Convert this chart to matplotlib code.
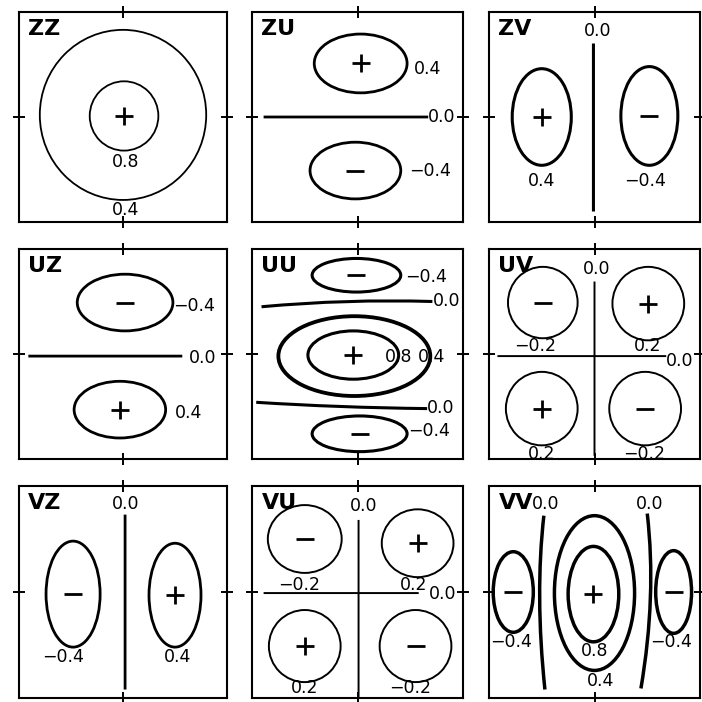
import matplotlib
matplotlib.use("Agg")
import matplotlib.pyplot as plt
from matplotlib.patches import Ellipse, PathPatch
from matplotlib.path import Path

panels = ["ZZ", "ZU", "ZV", "UZ", "UU", "UV", "VZ", "VU", "VV"]

# closed contours: panel, level, centre x, centre y, half width, half height
loops = [
    ("ZZ", 0.4, 0.00, 0.02, 0.80, 0.81),
    ("ZZ", 0.8, 0.01, 0.01, 0.33, 0.33),
    ("ZU", 0.4, 0.03, 0.51, 0.44, 0.28),
    ("ZU", -0.4, -0.02, -0.51, 0.43, 0.27),
    ("ZV", 0.4, -0.50, 0.00, 0.28, 0.46),
    ("ZV", -0.4, 0.52, 0.01, 0.27, 0.47),
    ("UZ", -0.4, 0.02, 0.49, 0.46, 0.27),
    ("UZ", 0.4, -0.03, -0.53, 0.44, 0.27),
    ("UU", -0.4, -0.01, 0.75, 0.42, 0.16),
    ("UU", 0.4, -0.03, -0.02, 0.72, 0.38),
    ("UU", 0.8, -0.04, -0.01, 0.43, 0.23),
    ("UU", -0.4, 0.02, -0.76, 0.45, 0.17),
    ("UV", -0.2, -0.49, 0.49, 0.33, 0.34),
    ("UV", 0.2, 0.51, 0.48, 0.34, 0.35),
    ("UV", 0.2, -0.50, -0.52, 0.34, 0.35),
    ("UV", -0.2, 0.48, -0.52, 0.34, 0.35),
    ("VZ", -0.4, -0.48, -0.02, 0.26, 0.50),
    ("VZ", 0.4, 0.50, -0.03, 0.25, 0.49),
    ("VU", -0.2, -0.50, 0.50, 0.35, 0.32),
    ("VU", 0.2, 0.57, 0.46, 0.34, 0.32),
    ("VU", 0.2, -0.50, -0.51, 0.34, 0.34),
    ("VU", -0.2, 0.55, -0.51, 0.34, 0.34),
    ("VV", -0.4, -0.77, 0.00, 0.19, 0.38),
    ("VV", 0.4, 0.00, -0.01, 0.38, 0.73),
    ("VV", 0.8, -0.01, -0.02, 0.24, 0.45),
    ("VV", -0.4, 0.75, 0.00, 0.17, 0.39),
]

# zero lines: panel, (x start, mid, end), (y start, mid, end)
zero_lines = [
    ("ZU", (-0.89, -0.11, 0.67), (0.00, 0.00, 0.00)),
    ("ZV", (-0.01, -0.01, -0.01), (0.70, -0.10, -0.90)),
    ("UZ", (-0.91, -0.17, 0.57), (-0.02, -0.02, -0.02)),
    ("UU", (-0.91, -0.10, 0.71), (0.45, 0.50, 0.50)),
    ("UU", (-0.96, -0.17, 0.66), (-0.46, -0.50, -0.52)),
    ("UV", (-0.92, -0.12, 0.68), (-0.02, -0.02, -0.02)),
    ("UV", (0.00, 0.00, 0.00), (0.69, -0.14, -0.97)),
    ("VZ", (0.02, 0.02, 0.02), (0.73, -0.10, -0.92)),
    ("VU", (-0.89, -0.16, 0.58), (-0.01, -0.01, -0.01)),
    ("VU", (0.01, 0.01, 0.01), (0.68, -0.16, -1.00)),
    ("VV", (-0.48, -0.52, -0.47), (0.72, -0.06, -0.92)),
    ("VV", (0.50, 0.53, 0.44), (0.74, -0.06, -0.91)),
]

# contour value labels: panel, level, x, y, anchor
labels = [
    ("ZZ", 0.8, 0.03, -0.43, "c"), ("ZZ", 0.4, 0.02, -0.89, "c"),
    ("ZU", 0.4, 0.53, 0.46, "l"), ("ZU", 0.0, 0.67, 0.00, "l"),
    ("ZU", -0.4, 0.49, -0.51, "l"),
    ("ZV", 0.4, -0.50, -0.61, "c"), ("ZV", -0.4, 0.48, -0.61, "c"),
    ("ZV", 0.0, 0.03, 0.82, "c"),
    ("UZ", -0.4, 0.48, 0.46, "l"), ("UZ", 0.0, 0.63, -0.04, "l"),
    ("UZ", 0.4, 0.50, -0.56, "l"),
    ("UU", -0.4, 0.45, 0.73, "l"), ("UU", 0.0, 0.71, 0.50, "l"),
    ("UU", 0.8, 0.26, -0.03, "l"), ("UU", 0.4, 0.57, -0.03, "l"),
    ("UU", 0.0, 0.66, -0.51, "l"), ("UU", -0.4, 0.48, -0.73, "l"),
    ("UV", -0.2, -0.56, 0.08, "c"), ("UV", 0.2, 0.50, 0.08, "c"),
    ("UV", 0.2, -0.50, -0.95, "c"), ("UV", -0.2, 0.47, -0.95, "c"),
    ("UV", 0.0, 0.68, -0.07, "l"), ("UV", 0.0, 0.02, 0.81, "c"),
    ("VZ", -0.4, -0.58, -0.61, "c"), ("VZ", 0.4, 0.52, -0.61, "c"),
    ("VZ", 0.0, 0.03, 0.83, "c"),
    ("VU", -0.2, -0.55, 0.07, "c"), ("VU", 0.2, 0.53, 0.07, "c"),
    ("VU", 0.2, -0.50, -0.91, "c"), ("VU", -0.2, 0.50, -0.91, "c"),
    ("VU", 0.0, 0.68, -0.02, "l"), ("VU", 0.0, 0.06, 0.81, "c"),
    ("VV", -0.4, -0.79, -0.47, "c"), ("VV", 0.8, 0.00, -0.56, "c"),
    ("VV", 0.4, 0.06, -0.84, "c"), ("VV", -0.4, 0.73, -0.47, "c"),
    ("VV", 0.0, -0.46, 0.83, "c"), ("VV", 0.0, 0.52, 0.83, "c"),
]

# pen width per panel
line_w = {"ZZ": 1.3, "ZU": 2.0, "ZV": 2.2, "UZ": 2.0, "UU": 2.2,
          "UV": 1.4, "VZ": 2.0, "VU": 1.4, "VV": 2.5}

# frame positions in pixels (left, top, right, bottom)
col_x = [(19, 227), (252, 463), (489, 700)]
row_y = [(12, 222), (249, 459), (486, 698)]
W = 702.0


def fmt(v):
    return f"{v:.1f}".replace("-", "\u2212")


fig = plt.figure(figsize=(7.02, 7.02), dpi=100)
axes = {}
for i, name in enumerate(panels):
    x0, x1 = col_x[i % 3]
    y0, y1 = row_y[i // 3]
    ax = fig.add_axes([x0 / W, (W - y1) / W, (x1 - x0) / W, (y1 - y0) / W])
    ax.set_xlim(-1, 1)
    ax.set_ylim(-1, 1)
    ax.set_xticks([0])
    ax.set_yticks([0])
    ax.tick_params(direction="inout", length=8, width=1.4, top=True,
                   right=True, labelbottom=False, labelleft=False)
    for s in ax.spines.values():
        s.set_linewidth(1.5)
    ax.text(0.045, 0.965, name, transform=ax.transAxes, ha="left", va="top",
            fontsize=16, fontweight="bold")
    axes[name] = ax

for p, lev, x, y, a, b in loops:
    ax = axes[p]
    ax.add_patch(Ellipse((x, y), 2 * a, 2 * b, fill=False, lw=line_w[p] *
                         (1.25 if p == "UU" and lev == 0.4 else 1.0)))
    # sign only on the innermost loop of a lobe
    nested = any(q == p and a2 < a and abs(x2 - x) < a and abs(y2 - y) < b
                 for q, l2, x2, y2, a2, b2 in loops)
    if not nested:
        ax.plot(x, y, marker="+" if lev > 0 else "_", ms=13, mew=2.0,
                color="black")

for p, xs, ys in zero_lines:
    # quadratic curve through the three points
    cx = 2 * xs[1] - (xs[0] + xs[2]) / 2
    cy = 2 * ys[1] - (ys[0] + ys[2]) / 2
    path = Path([(xs[0], ys[0]), (cx, cy), (xs[2], ys[2])],
                [Path.MOVETO, Path.CURVE3, Path.CURVE3])
    axes[p].add_patch(PathPatch(path, fill=False, lw=line_w[p]))

for p, lev, x, y, anc in labels:
    axes[p].text(x, y, fmt(lev), ha="left" if anc == "l" else "center",
                 va="center", fontsize=12.5, clip_on=False)

fig.savefig("out.png", dpi=100)
